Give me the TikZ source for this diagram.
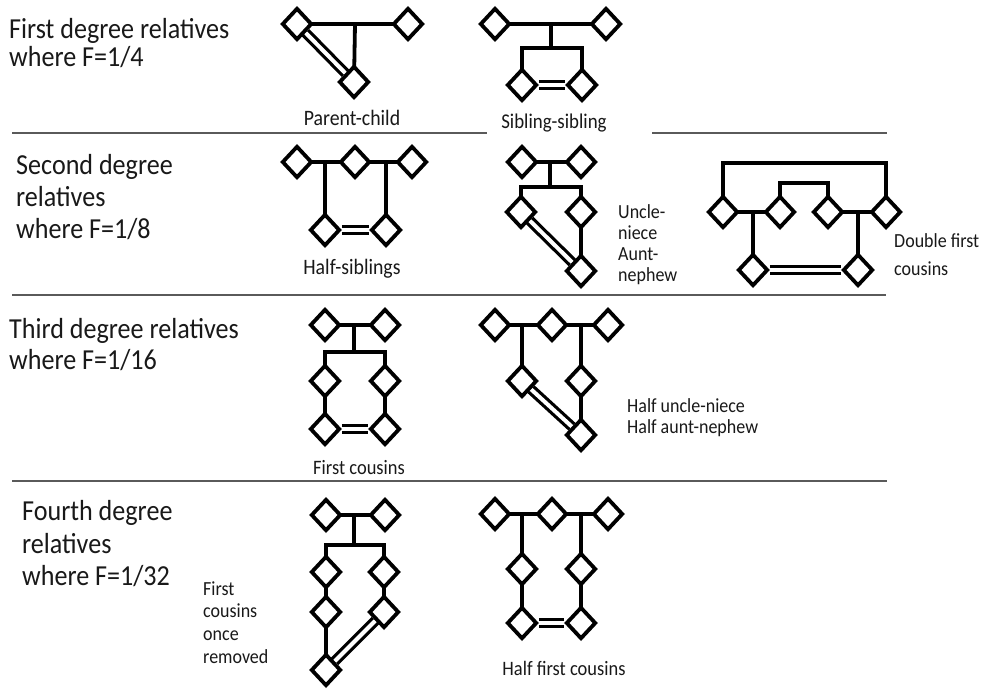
\documentclass[tikz,border=0pt]{standalone}
\usepackage{fontspec}
\setmainfont{Carlito}[FakeStretch=0.9]
\usetikzlibrary{shapes.geometric}
\pgfdeclarelayer{back}
\pgfdeclarelayer{bg}
\pgfsetlayers{back,bg,main}
\definecolor{sepcol}{RGB}{90,90,90}
\definecolor{txt}{RGB}{25,25,25}
\tikzset{
 dm/.style={diamond, draw=black, fill=white, line width=3.8pt, minimum width=30pt, minimum height=32pt, inner sep=0pt},
 ln/.style={line width=3.8pt, draw=black},
 dbl/.style={draw=black, double=white, double distance=4pt, line width=3.2pt},
 sepline/.style={line width=2.2pt, draw=sepcol},
 ttl/.style={anchor=base west, inner sep=0pt, font=\fontsize{29}{33}\selectfont, text=txt},
 lbl/.style={anchor=base west, inner sep=0pt, font=\fontsize{20}{21}\selectfont, text=txt},
 clbl/.style={anchor=base, inner sep=0pt, font=\fontsize{20.5}{21}\selectfont, text=txt},
 clblb/.style={clbl, font=\fontsize{22}{23}\selectfont},
}
\begin{document}
\begin{tikzpicture}[x=1pt,y=-1pt]
\useasboundingbox (0,0) rectangle (981,694);
\begin{pgfonlayer}{back}
\fill[white] (0,0) rectangle (981,694);
\end{pgfonlayer}

% ---------- titles ----------
\node[ttl] (t1a) at (9,38) {First degree relatives};
\node[ttl] (t1b) at (9,66) {where F=1/4};
\node[ttl] (t2a) at (16,174) {Second degree};
\node[ttl] (t2b) at (16,206) {relatives};
\node[ttl] (t2c) at (16,238) {where F=1/8};
\node[ttl] (t3a) at (9,338) {Third degree relatives};
\node[ttl] (t3b) at (9,369) {where F=1/16};
\node[ttl] (t4a) at (22,520) {Fourth degree};
\node[ttl] (t4b) at (22,553) {relatives};
\node[ttl] (t4c) at (22,585) {where F=1/32};

% ---------- separators ----------
\coordinate (s1a) at (12,133); \coordinate (s1b) at (487,133);
\coordinate (s1c) at (652,133); \coordinate (s1d) at (887,133);
\coordinate (s2a) at (12,295); \coordinate (s2b) at (886,295);
\coordinate (s3a) at (12,481); \coordinate (s3b) at (887,481);
\draw[sepline] (s1a) -- (s1b);
\draw[sepline] (s1c) -- (s1d);
\draw[sepline] (s2a) -- (s2b);
\draw[sepline] (s3a) -- (s3b);

% ---------- Parent-child ----------
\node[dm] (pa) at (297,24) {};
\node[dm] (pb) at (408,24) {};
\node[dm] (pc) at (354,82) {};
\coordinate (pj) at (355,24);
\node[clblb] (lpc) at (352,125) {Parent-child};

% ---------- Sibling-sibling ----------
\node[dm] (sa) at (495,24) {};
\node[dm] (sb) at (606,24) {};
\node[dm] (sc) at (522,85) {};
\node[dm] (sd) at (582,85) {};
\coordinate (sj) at (551,24);
\coordinate (sbar) at (551,48);
\node[clbl, font=\fontsize{21}{22}\selectfont] (lss) at (554,128) {Sibling-sibling};

% ---------- Half-siblings ----------
\node[dm] (h1) at (297,162) {};
\node[dm] (h2) at (355,162) {};
\node[dm] (h3) at (412,162) {};
\node[dm] (h4) at (325,230) {};
\node[dm] (h5) at (386,230) {};
\node[clblb] (lhs) at (352,274) {Half-siblings};

% ---------- Uncle-niece ----------
\node[dm] (u1) at (522,162) {};
\node[dm] (u2) at (581,162) {};
\node[dm] (u3) at (521,212) {};
\node[dm] (u4) at (581,212) {};
\node[dm] (u5) at (581,271) {};
\coordinate (uj) at (550,162);
\coordinate (ub) at (550,187);
\node[lbl] (lu1) at (618,218) {Uncle-};
\node[lbl] (lu2) at (618,239) {niece};
\node[lbl] (lu3) at (618,260) {Aunt-};
\node[lbl] (lu4) at (618,281) {nephew};

% ---------- Double first cousins ----------
\node[dm] (d1) at (723,212) {};
\node[dm] (d2) at (780,212) {};
\node[dm] (d3) at (828,212) {};
\node[dm] (d4) at (886,212) {};
\node[dm] (d5) at (753,270) {};
\node[dm] (d6) at (858,270) {};
\coordinate (dtop) at (800,163);
\coordinate (dmid) at (804,183);
\node[lbl] (ld1) at (894,247) {Double first};
\node[lbl] (ld2) at (894,275) {cousins};

% ---------- First cousins ----------
\node[dm] (f1) at (325,325) {};
\node[dm] (f2) at (385,325) {};
\node[dm] (f3) at (325,381) {};
\node[dm] (f4) at (385,381) {};
\node[dm] (f5) at (325,429) {};
\node[dm] (f6) at (385,429) {};
\coordinate (fj) at (354,325);
\coordinate (fb) at (354,352);
\node[clbl] (lfc) at (359,474) {First cousins};

% ---------- Half uncle-niece ----------
\node[dm] (g1) at (495,325) {};
\node[dm] (g2) at (552,325) {};
\node[dm] (g3) at (608,325) {};
\node[dm] (g4) at (522,381) {};
\node[dm] (g5) at (581,381) {};
\node[dm] (g6) at (581,435) {};
\node[lbl] (lg1) at (627,412) {Half uncle-niece};
\node[lbl] (lg2) at (627,433) {Half aunt-nephew};

% ---------- First cousins once removed ----------
\node[dm] (c1) at (326,515) {};
\node[dm] (c2) at (385,515) {};
\node[dm] (c3) at (326,572) {};
\node[dm] (c4) at (384,572) {};
\node[dm] (c5) at (326,612) {};
\node[dm] (c6) at (384,612) {};
\node[dm] (c7) at (326,670) {};
\coordinate (cj) at (354,515);
\coordinate (cb) at (354,545);
\node[lbl] (lc1) at (203,595) {First};
\node[lbl] (lc2) at (203,617) {cousins};
\node[lbl] (lc3) at (203,640) {once};
\node[lbl] (lc4) at (203,663) {removed};

% ---------- Half first cousins ----------
\node[dm] (k1) at (495,514) {};
\node[dm] (k2) at (552,514) {};
\node[dm] (k3) at (608,514) {};
\node[dm] (k4) at (522,569) {};
\node[dm] (k5) at (581,569) {};
\node[dm] (k6) at (522,623) {};
\node[dm] (k7) at (581,623) {};
\node[clbl] (lhf) at (564,675) {Half first cousins};

% ---------- connectors (behind diamonds) ----------
\begin{pgfonlayer}{bg}
\draw[ln] (pa.center) -- (pb.center);
\draw[ln] (pj) -- (pc.center);
\draw[dbl] (pa) -- (pc);

\draw[ln] (sa.center) -- (sb.center);
\draw[ln] (sj) -- (sbar);
\draw[ln] (sc.center) |- (sbar) -| (sd.center);
\draw[dbl] (sc) -- (sd);

\draw[ln] (h1.center) -- (h3.center);
\draw[ln] (h4.center) -- (h4 |- h1);
\draw[ln] (h5.center) -- (h5 |- h3);
\draw[dbl] (h4) -- (h5);

\draw[ln] (u1.center) -- (u2.center);
\draw[ln] (uj) -- (ub);
\draw[ln] (u3.center) |- (ub) -| (u4.center);
\draw[ln] (u4.center) -- (u5.center);
\draw[dbl] (u3) -- (u5);

\draw[ln] (d1.center) -- (d2.center);
\draw[ln] (d3.center) -- (d4.center);
\draw[ln] (d1.center) |- (dtop) -| (d4.center);
\draw[ln] (d2.center) |- (dmid) -| (d3.center);
\draw[ln] (d5.center) -- (d5 |- d1);
\draw[ln] (d6.center) -- (d6 |- d4);
\draw[dbl] (d5) -- (d6);

\draw[ln] (f1.center) -- (f2.center);
\draw[ln] (fj) -- (fb);
\draw[ln] (f3.center) |- (fb) -| (f4.center);
\draw[ln] (f3.center) -- (f5.center);
\draw[ln] (f4.center) -- (f6.center);
\draw[dbl] (f5) -- (f6);

\draw[ln] (g1.center) -- (g3.center);
\draw[ln] (g4.center) -- (g4 |- g1);
\draw[ln] (g6.center) -- (g6 |- g3);
\draw[dbl] (g4) -- (g6);

\draw[ln] (c1.center) -- (c2.center);
\draw[ln] (cj) -- (cb);
\draw[ln] (c3.center) |- (cb) -| (c4.center);
\draw[ln] (c3.center) -- (c7.center);
\draw[ln] (c4.center) -- (c6.center);
\draw[dbl] (c6) -- (c7);

\draw[ln] (k1.center) -- (k3.center);
\draw[ln] (k6.center) -- (k6 |- k1);
\draw[ln] (k7.center) -- (k7 |- k3);
\draw[dbl] (k6) -- (k7);
\end{pgfonlayer}
\end{tikzpicture}
\end{document}
